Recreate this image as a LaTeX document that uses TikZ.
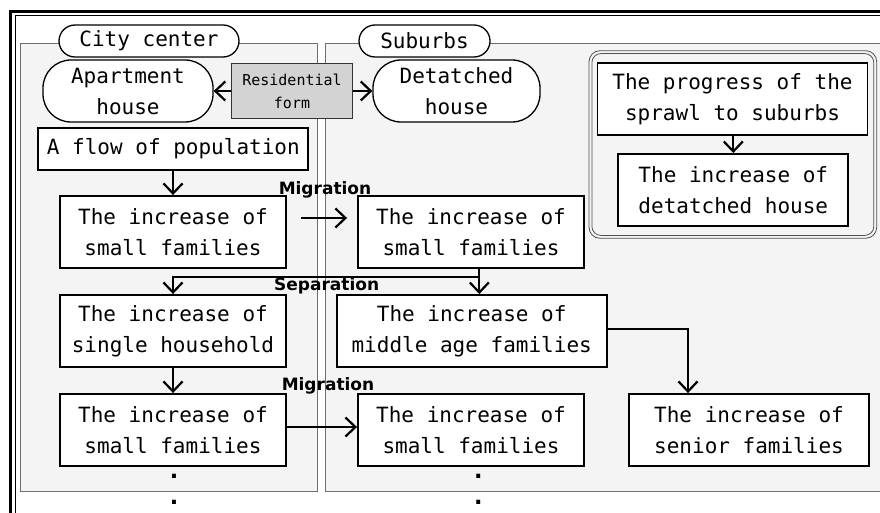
\documentclass[tikz,border=0pt]{standalone}
\usepackage{fontspec}
\setmainfont{DejaVu Sans Mono}
\newfontfamily\lblfont{DejaVu Sans}
\usetikzlibrary{arrows.meta}
\definecolor{panelfill}{RGB}{244,244,244}
\definecolor{panelline}{RGB}{110,110,110}
\definecolor{resfill}{RGB}{211,211,211}
\definecolor{grpline}{RGB}{80,80,80}
\begin{document}
\begin{tikzpicture}[x=1pt,y=-1pt,
 txt/.style={font=\fontsize{21}{31}\selectfont, align=center, inner sep=0pt},
 box/.style={txt, draw=black, line width=1.9pt, fill=white},
 stad/.style={txt, draw=black, line width=1.3pt, fill=white},
 resbox/.style={font=\fontsize{15}{23}\selectfont, align=center, inner sep=0pt, draw=black!80, line width=1.2pt, fill=resfill},
 arr/.style={line width=2.2pt, -{Straight Barb[length=10pt,width=19pt]}},
 lbl/.style={font=\lblfont\bfseries\fontsize{17}{17}\selectfont, inner sep=0pt},
 panel/.style={draw=panelline, line width=0.8pt, fill=panelfill},
 dotmark/.style={font=\bfseries\fontsize{24}{24}\selectfont, inner sep=0pt}
]
\useasboundingbox (0,0) rectangle (880,513);
\clip (0,0) rectangle (880,513);
\fill[white] (0,0) rectangle (880,513);
% outer frame
\draw[line width=3pt] (10.5,11.5) rectangle (900,530);
\draw[line width=1pt] (15,15.5) rectangle (900,530);
% panels
\draw[panel] (20.7,43) rectangle (317.7,491.7);
\draw[panel] (325,43) rectangle (900,491.7);
% right group frame
\draw[grpline, line width=0.8pt, rounded corners=11pt] (589,50.7) rectangle (876.7,238.3);
\draw[grpline, line width=0.8pt, rounded corners=9pt] (591.9,53.6) rectangle (873.8,235.4);
% header labels
\node[stad, minimum width=180pt, minimum height=32pt, rounded corners=16pt] (city) at (149,41) {City center};
\node[stad, minimum width=131pt, minimum height=32pt, rounded corners=16pt] (sub) at (424.5,41) {Suburbs};
% residential form
\node[stad, minimum width=170pt, minimum height=62pt, rounded corners=28pt] (apt) at (128,91) {Apartment\\house};
\node[stad, minimum width=167pt, minimum height=62pt, rounded corners=28pt] (dh) at (456.5,91) {Detatched\\house};
\node[resbox, minimum width=121pt, minimum height=55pt] (res) at (292,91) {Residential\\form};
% city center boxes
\node[box, minimum width=270pt, minimum height=42pt] (flow) at (173.3,149) {A flow of population};
\node[box, minimum width=226pt, minimum height=72pt] (lsf1) at (173,232) {The increase of\\small families};
\node[box, minimum width=226pt, minimum height=72pt] (sh) at (173,331) {The increase of\\single household};
\node[box, minimum width=226pt, minimum height=72pt] (lsf2) at (173,430) {The increase of\\small families};
% suburbs boxes
\node[box, minimum width=226pt, minimum height=72pt] (rsf1) at (471,232) {The increase of\\small families};
\node[box, minimum width=270pt, minimum height=72pt] (mid) at (471.7,331) {The increase of\\middle age families};
\node[box, minimum width=226pt, minimum height=72pt] (rsf2) at (471,430) {The increase of\\small families};
\node[box, minimum width=240pt, minimum height=72pt] (sen) at (749,430) {The increase of\\senior families};
% right group
\node[box, minimum width=270pt, minimum height=72pt] (prog) at (732.5,99) {The progress of the\\sprawl to suburbs};
\node[box, minimum width=230pt, minimum height=72pt] (det) at (733.3,190) {The increase of\\detatched house};
% connectors
\draw[arr] (res.west) -- (apt.east);
\draw[arr] (res.east) -- (dh.west);
\draw[arr] (flow.south -| lsf1.north) -- (lsf1.north);
\draw[arr] ([shift={(14,-14)}]lsf1.east) -- ([shift={(-10,-14)}]rsf1.west);
\coordinate (sp) at (479.3,276.7);
\draw[arr] (rsf1.south -| sp) -- (mid.north -| sp);
\draw[arr] (sp) -| (sh.north);
\draw[arr] (sh.south) -- (lsf2.north);
\draw[arr] ([yshift=3pt]lsf2.east) -- ([yshift=3pt]rsf2.west);
\draw[arr] ([yshift=2pt]mid.east) -| ([xshift=-61pt]sen.north);
\draw[arr] (prog.south -| det.north) -- (det.north);
% labels
\node[lbl] (mig1) at (325,190) {Migration};
\node[lbl] (sep) at (326.7,286) {Separation};
\node[lbl] (mig2) at (328,386) {Migration};
% continuation dots
\node[dotmark] (d1) at (174,476.7) {.};
\node[dotmark] (d2) at (174,502) {.};
\node[dotmark] (d3) at (478.3,476.7) {.};
\node[dotmark] (d4) at (478.3,502) {.};
\end{tikzpicture}
\end{document}
